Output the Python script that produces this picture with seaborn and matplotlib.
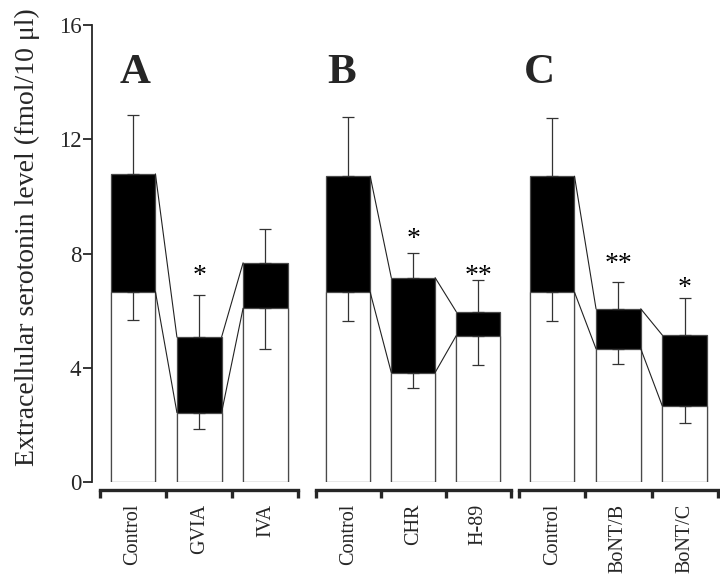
import matplotlib
matplotlib.use("Agg")
import matplotlib.pyplot as plt
import seaborn as sns
import pandas as pd

# ---------------- data ----------------
panels = ["A", "B", "C"]
categories = [["Control", "GVIA", "IVA"],
              ["Control", "CHR", "H-89"],
              ["Control", "BoNT/B", "BoNT/C"]]
# stimulated (top of black bar) and basal (top of white bar) levels
stim_level = [[10.79, 5.08, 7.68], [10.71, 7.16, 5.97], [10.71, 6.07, 5.15]]
basal_level = [[6.67, 2.44, 6.09], [6.65, 3.84, 5.13], [6.65, 4.67, 2.67]]
stim_err = [[2.06, 1.47, 1.18], [2.07, 0.87, 1.10], [2.02, 0.95, 1.29]]
basal_err = [[0.98, 0.56, 1.42], [0.99, 0.55, 1.02], [0.99, 0.53, 0.58]]
stars = [["", "*", ""], ["", "*", "**"], ["", "**", "*"]]
star_level = [[0, 7.41, 0], [0, 8.72, 7.41], [0, 7.84, 6.99]]
y_ticks = [0, 4, 8, 12, 16]
y_label = "Extracellular serotonin level (fmol/10 \u03bcl)"

# ---------------- style ----------------
sns.set_style("ticks")
plt.rcParams["font.family"] = ["Liberation Serif", "DejaVu Serif"]

W, H = 720, 574
fig = plt.figure(figsize=(W / 100, H / 100), dpi=100)

y0_px, y16_px = 482.3, 25.0
axes_px = [(100.0, 298.5), (315.8, 510.6), (519.0, 717.8)]
letter_px = [135.5, 342.0, 539.0]
bar_w = 0.675
edge = "#4a4a4a"

for k, (l, r) in enumerate(axes_px):
    ax = fig.add_axes([l / W, (H - y0_px) / H, (r - l) / W, (y0_px - y16_px) / H])
    df = pd.DataFrame({"cat": categories[k], "stim": stim_level[k], "basal": basal_level[k]})
    n = len(df)
    sns.barplot(data=df, x="cat", y="stim", color="black", saturation=1, width=bar_w,
                edgecolor=edge, linewidth=0.9, ax=ax, zorder=2)
    sns.barplot(data=df, x="cat", y="basal", color="white", saturation=1, width=bar_w,
                edgecolor=edge, linewidth=0.9, ax=ax, zorder=3)
    xs = list(range(n))
    # error bars: upward from stimulated, downward from basal
    ax.errorbar(xs, df["stim"], yerr=[[0] * n, stim_err[k]], fmt="none",
                ecolor="#333333", elinewidth=0.9, capsize=4.3, capthick=0.9, zorder=4)
    ax.errorbar(xs, df["basal"], yerr=[basal_err[k], [0] * n], fmt="none",
                ecolor="#333333", elinewidth=0.9, capsize=4.3, capthick=0.9, zorder=4)
    # connecting lines between adjacent bars
    for i in range(n - 1):
        for series in (df["stim"], df["basal"]):
            ax.plot([i + bar_w / 2, i + 1 - bar_w / 2], [series[i], series[i + 1]],
                    color="#222222", lw=0.8, zorder=5)
    # significance stars
    for i in range(n):
        if stars[k][i]:
            ax.text(i, star_level[k][i] - 0.45, stars[k][i], ha="center", va="baseline",
                    fontsize=20, color="black", zorder=6)

    ax.set_xlim(-0.5, n - 0.5)
    ax.set_ylim(0, 16)
    ax.set_xlabel("")
    ax.set_ylabel("")
    for s in ("top", "right"):
        ax.spines[s].set_visible(False)
    ax.spines["bottom"].set_position(("outward", 5.5))
    ax.spines["bottom"].set_bounds(-0.5, n - 0.5)
    ax.spines["bottom"].set_linewidth(2.4)
    ax.set_xticks(xs)
    ax.set_xticklabels(categories[k], rotation=90, fontsize=14.5)
    ax.set_xticks([i - 0.5 for i in range(n + 1)], minor=True)
    ax.tick_params(axis="x", which="major", length=0, pad=10)
    ax.tick_params(axis="x", which="minor", length=5.5, width=2.4, direction="out")
    if k == 0:
        ax.spines["left"].set_position(("outward", 6))
        ax.spines["left"].set_bounds(0, 16)
        ax.spines["left"].set_linewidth(1.3)
        ax.set_yticks(y_ticks)
        ax.set_yticklabels([str(t) for t in y_ticks], fontsize=16.5)
        ax.tick_params(axis="y", length=6.5, width=1.3, pad=1)
        ax.set_ylabel(y_label, fontsize=20)
        ax.yaxis.set_label_coords((40 - l) / (r - l), (y0_px - 237) / (y0_px - y16_px))
    else:
        ax.spines["left"].set_visible(False)
        ax.set_yticks([])
    ax.set_facecolor("none")
    fig.text(letter_px[k] / W, 1 - 83.0 / H, panels[k], ha="center", va="baseline",
             fontsize=31, fontweight="bold")

fig.savefig("out.png", dpi=100, facecolor="white")
